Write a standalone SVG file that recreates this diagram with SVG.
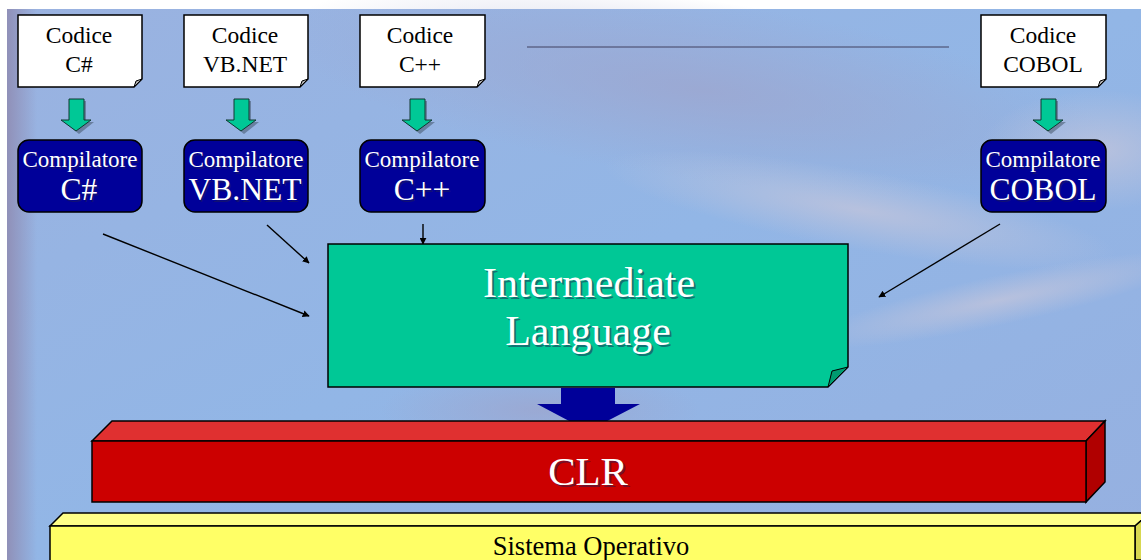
<svg xmlns="http://www.w3.org/2000/svg" width="1141" height="560" viewBox="0 0 1141 560">
  <style>
    .doc { fill: #ffffff; stroke: #000000; stroke-width: 1.5; }
    .fold { fill: #b0b0b0; stroke: #000000; stroke-width: 1; }
    .doctext { font-size: 23.5px; fill: #000000; }
    .comp { fill: #000099; stroke: #000000; stroke-width: 1.5; }
    .comp1 { font-size: 23px; fill: #ffffff; }
    .comp2 { font-size: 31.5px; fill: #ffffff; }
    .shadow { fill: #202050; opacity: 0.5; }
    .garrow { fill: #00c896; stroke: #103830; stroke-width: 1; }
    .gshadow { fill: #304050; opacity: 0.45; }
    .conn { stroke: #000000; stroke-width: 1.4; fill: none; marker-end: url(#head); }
  </style>
  <defs>
    <marker id="head" viewBox="0 0 10 10" refX="9" refY="5" markerWidth="7" markerHeight="7" orient="auto" markerUnits="userSpaceOnUse">
      <path d="M0,0 L10,5 L0,10 Z" fill="#000000"/>
    </marker>
    <linearGradient id="bg" x1="0" y1="0" x2="1" y2="1">
      <stop offset="0" stop-color="#9ab2e0"/>
      <stop offset="0.5" stop-color="#92b6e6"/>
      <stop offset="1" stop-color="#96b0e0"/>
    </linearGradient>
    <radialGradient id="haze1" cx="0.5" cy="0.5" r="0.5">
      <stop offset="0" stop-color="#c0c4dc" stop-opacity="0.8"/>
      <stop offset="1" stop-color="#c0c4dc" stop-opacity="0"/>
    </radialGradient>
    <radialGradient id="haze2" cx="0.5" cy="0.5" r="0.5">
      <stop offset="0" stop-color="#9ea4cc" stop-opacity="0.7"/>
      <stop offset="1" stop-color="#9ea4cc" stop-opacity="0"/>
    </radialGradient>
    <linearGradient id="leftedge" x1="0" y1="0" x2="1" y2="0">
      <stop offset="0" stop-color="#9090b8"/>
      <stop offset="1" stop-color="#9090b8" stop-opacity="0"/>
    </linearGradient>
  </defs>

  <!-- backdrop -->
  <rect x="0" y="0" width="1141" height="560" fill="#ffffff"/>
  <rect x="7" y="9" width="1134" height="551" fill="url(#bg)"/>
  <ellipse cx="700" cy="90" rx="420" ry="90" fill="url(#haze2)" transform="rotate(8 700 90)"/>
  <ellipse cx="860" cy="210" rx="260" ry="40" fill="url(#haze1)" transform="rotate(10 860 210)"/>
  <ellipse cx="1100" cy="150" rx="120" ry="60" fill="url(#haze1)"/>
  <ellipse cx="540" cy="410" rx="160" ry="40" fill="url(#haze2)"/>
  <ellipse cx="1000" cy="300" rx="200" ry="25" fill="url(#haze1)" transform="rotate(-12 1000 300)"/>
  <rect x="7" y="9" width="30" height="551" fill="url(#leftedge)"/>
  <line x1="527" y1="47" x2="949" y2="47" stroke="#404060" stroke-width="1"/>

  <g font-family="Liberation Serif, DejaVu Serif, serif" text-anchor="middle">
  <!-- source documents -->
  <g id="codice-cs">
    <path class="doc" d="M18,15 H142 V79 L134,87 H18 Z"/>
    <path class="fold" d="M134,87 L136,81 L142,79 Z"/>
    <text class="doctext" x="79" y="43">Codice</text>
    <text class="doctext" x="79" y="72">C#</text>
  </g>
  <g id="codice-vb">
    <path class="doc" d="M184,15 H308 V79 L300,87 H184 Z"/>
    <path class="fold" d="M300,87 L302,81 L308,79 Z"/>
    <text class="doctext" x="245" y="43">Codice</text>
    <text class="doctext" x="245" y="72">VB.NET</text>
  </g>
  <g id="codice-cpp">
    <path class="doc" d="M360,15 H485 V79 L477,87 H360 Z"/>
    <path class="fold" d="M477,87 L479,81 L485,79 Z"/>
    <text class="doctext" x="420" y="43">Codice</text>
    <text class="doctext" x="420" y="72">C++</text>
  </g>
  <g id="codice-cobol">
    <path class="doc" d="M981,15 H1106 V79 L1098,87 H981 Z"/>
    <path class="fold" d="M1098,87 L1100,81 L1106,79 Z"/>
    <text class="doctext" x="1043" y="43">Codice</text>
    <text class="doctext" x="1043" y="72">COBOL</text>
  </g>

  <!-- compile arrows -->
  <g id="compile-arrows">
    <g transform="translate(76 0)">
      <path class="gshadow" d="M-5,101 H10 V122 H18 L3,134 L-12,122 H-5 Z"/>
      <path class="garrow" d="M-7,99 H8 V120 H15 L0,131 L-15,120 H-7 Z"/>
    </g>
    <g transform="translate(241 0)">
      <path class="gshadow" d="M-5,101 H10 V122 H18 L3,134 L-12,122 H-5 Z"/>
      <path class="garrow" d="M-7,99 H8 V120 H15 L0,131 L-15,120 H-7 Z"/>
    </g>
    <g transform="translate(417 0)">
      <path class="gshadow" d="M-5,101 H10 V122 H18 L3,134 L-12,122 H-5 Z"/>
      <path class="garrow" d="M-7,99 H8 V120 H15 L0,131 L-15,120 H-7 Z"/>
    </g>
    <g transform="translate(1048 0)">
      <path class="gshadow" d="M-5,101 H10 V122 H18 L3,134 L-12,122 H-5 Z"/>
      <path class="garrow" d="M-7,99 H8 V120 H15 L0,131 L-15,120 H-7 Z"/>
    </g>
  </g>

  <!-- compilers -->
  <g id="comp-cs">
    <rect class="comp" x="18" y="140" width="124" height="72" rx="11"/>
    <text class="comp1 shadow" x="81.5" y="168.5">Compilatore</text>
    <text class="comp1" x="80" y="167">Compilatore</text>
    <text class="comp2 shadow" x="80.5" y="201.5">C#</text>
    <text class="comp2" x="79" y="200">C#</text>
  </g>
  <g id="comp-vb">
    <rect class="comp" x="184" y="140" width="124" height="72" rx="11"/>
    <text class="comp1 shadow" x="247.5" y="168.5">Compilatore</text>
    <text class="comp1" x="246" y="167">Compilatore</text>
    <text class="comp2 shadow" x="246.5" y="201.5">VB.NET</text>
    <text class="comp2" x="245" y="200">VB.NET</text>
  </g>
  <g id="comp-cpp">
    <rect class="comp" x="360" y="140" width="125" height="72" rx="11"/>
    <text class="comp1 shadow" x="423.5" y="168.5">Compilatore</text>
    <text class="comp1" x="422" y="167">Compilatore</text>
    <text class="comp2 shadow" x="423.5" y="201.5">C++</text>
    <text class="comp2" x="422" y="200">C++</text>
  </g>
  <g id="comp-cobol">
    <rect class="comp" x="981" y="140" width="125" height="72" rx="11"/>
    <text class="comp1 shadow" x="1044.5" y="168.5">Compilatore</text>
    <text class="comp1" x="1043" y="167">Compilatore</text>
    <text class="comp2 shadow" x="1044.5" y="201.5">COBOL</text>
    <text class="comp2" x="1043" y="200">COBOL</text>
  </g>

  <!-- connectors into the intermediate language -->
  <g id="connectors">
    <line class="conn" x1="103" y1="234" x2="309" y2="316"/>
    <line class="conn" x1="267" y1="225" x2="309" y2="263"/>
    <line class="conn" x1="423" y1="224" x2="423" y2="244"/>
    <line class="conn" x1="1000" y1="224" x2="879" y2="297"/>
  </g>

  <!-- intermediate language -->
  <g id="intermediate-language">
    <path d="M328,244 H848 V367 L828,387 H328 Z" fill="#00c896" stroke="#000000" stroke-width="1.5"/>
    <path d="M828,387 L832,371 L848,367 Z" fill="#009a70" stroke="#000000" stroke-width="1"/>
    <text class="shadow" x="591" y="299" font-size="42">Intermediate</text>
    <text x="589" y="297" font-size="42" fill="#ffffff">Intermediate</text>
    <text class="shadow" x="590" y="347" font-size="42">Language</text>
    <text x="588" y="345" font-size="42" fill="#ffffff">Language</text>
  </g>

  <!-- IL to CLR -->
  <g id="il-to-clr">
    <path d="M561,388 H615 V404 H640 L588,431 L537,404 H561 Z" fill="#000099"/>
  </g>

  <!-- CLR slab -->
  <g id="clr">
    <path d="M92,441 L112,421 H1105 L1086,441 Z" fill="#e03030" stroke="#000000" stroke-width="1.5"/>
    <path d="M1086,441 L1105,421 V482 L1086,502 Z" fill="#b00000" stroke="#000000" stroke-width="1.5"/>
    <rect x="92" y="441" width="994" height="61" fill="#cc0000" stroke="#000000" stroke-width="1.5"/>
    <text class="shadow" x="590" y="487" font-size="41">CLR</text>
    <text x="588" y="485" font-size="41" fill="#ffffff">CLR</text>
  </g>

  <!-- operating system slab -->
  <g id="sistema-operativo">
    <path d="M50,526 L63,513 H1150 L1135,526 Z" fill="#ffff88" stroke="#000000" stroke-width="1.5"/>
    <path d="M1135,526 L1150,513 V560 H1135 Z" fill="#d8d850" stroke="#000000" stroke-width="1.5"/>
    <rect x="50" y="526" width="1085" height="40" fill="#ffff66" stroke="#000000" stroke-width="1.5"/>
    <text x="591" y="555" font-size="26.5" fill="#000000">Sistema Operativo</text>
  </g>
  </g>
</svg>
